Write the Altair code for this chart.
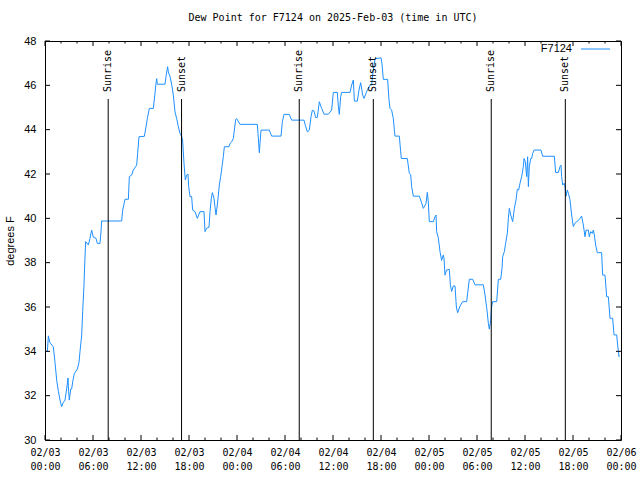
import altair as alt
import pandas as pd

SERIES = "F7124"
TITLE = "Dew Point for F7124 on 2025-Feb-03 (time in UTC)"
Y_TITLE = "degrees F"
LINE_COLOR = "#1e90ff"

# hours after 2025-02-03 00:00 UTC, and dew point (F)
hours = [
    0, 0.3, 0.42, 0.6, 1.04, 1.25, 1.46, 1.67, 1.875, 2.08, 2.3, 2.5, 2.71, 2.875, 2.95, 3.04,
    3.21, 3.33, 3.5, 3.67, 4.04, 4.25, 4.375, 4.58, 4.71, 4.875, 4.96, 5.08, 5.42, 5.625, 5.83,
    6.04, 6.375, 6.54, 6.875, 7.0, 7.08, 9.58, 9.71, 10.0, 10.42, 10.54, 10.83, 11.04, 11.46,
    11.58, 11.75, 12.42, 12.625, 12.79, 13.04, 13.54, 13.75, 13.875, 13.96, 14.04, 15.0, 15.125,
    15.33, 15.42, 15.625, 15.83, 16.04, 16.25, 16.46, 16.67, 16.875, 17.08, 17.2, 17.375, 17.54,
    17.71, 17.875, 17.96, 18.125, 18.33, 18.46, 18.75, 19.04, 19.375, 19.875, 20.0, 20.2, 20.5,
    20.625, 20.79, 20.92, 21.125, 21.25, 21.375, 21.54, 21.67, 21.79, 21.96, 22.125, 22.29,
    22.42, 23.0, 23.125, 23.33, 23.54, 23.67, 23.83, 23.96, 24.17, 24.375, 26.54, 26.625, 26.79,
    26.875, 27.0, 28.04, 28.33, 29.5, 29.67, 29.875, 30.54, 30.83, 32.375, 32.54, 32.79, 33.04,
    33.25, 33.42, 33.625, 33.83, 34.04, 34.29, 34.58, 34.875, 35.42, 35.83, 36.04, 36.54, 36.67,
    36.79, 36.96, 37.08, 38.125, 38.33, 38.54, 38.67, 39.04, 39.25, 39.46, 39.71, 39.875, 40.125,
    40.33, 40.625, 40.83, 41.0, 41.25, 42.0, 42.125, 42.29, 42.83, 43.0, 43.125, 43.33, 43.54,
    43.67, 43.75, 44.29, 44.46, 44.54, 45.29, 45.54, 45.71, 45.83, 46.04, 46.79, 47.08, 47.29,
    47.625, 47.79, 47.92, 48.04, 48.54, 48.75, 48.875, 48.96, 49.17, 49.375, 49.58, 49.79,
    49.875, 50.0, 50.2, 50.54, 50.67, 50.83, 51.04, 51.25, 51.42, 51.58, 51.875, 52.21, 52.71,
    52.83, 53.04, 53.46, 53.75, 54.79, 55.0, 55.21, 55.42, 55.54, 55.71, 55.83, 55.96, 56.46,
    56.67, 56.96, 57.125, 57.21, 57.42, 57.58, 57.79, 57.92, 58.04, 58.21, 58.46, 58.67, 58.875,
    59.04, 59.21, 59.375, 59.58, 59.79, 59.875, 60.04, 60.21, 60.33, 60.42, 60.54, 60.71, 60.83,
    60.96, 61.125, 62.0, 62.21, 63.67, 63.83, 64.17, 64.375, 64.5, 64.58, 64.71, 64.875, 65.0,
    65.125, 65.29, 65.42, 65.625, 65.83, 66.04, 66.25, 66.46, 66.67, 66.875, 67.08, 67.29, 67.5,
    67.625, 67.92, 68.04, 68.21, 68.42, 68.54, 68.67, 68.83, 69.04, 69.58, 69.71, 70.0, 70.21,
    70.42, 70.625, 70.96, 71.125, 71.46, 71.58, 71.75, 71.79,
]
dewpoint = [
    34.0, 34.0, 34.7, 34.4, 34.2, 33.5, 32.7, 32.2, 31.8, 31.5, 31.7, 31.8, 32.3, 32.8, 32.2, 31.8,
    32.3, 32.3, 32.7, 33.0, 33.2, 33.5, 34.0, 34.7, 35.8, 37.0, 37.9, 38.95, 38.8, 39.1, 39.47,
    39.15, 39.1, 38.87, 38.87, 39.4, 39.88, 39.88, 40.37, 40.86, 40.86, 41.88, 41.95, 42.18, 42.4,
    42.93, 43.68, 43.7, 44.13, 44.5, 44.96, 44.96, 45.64, 46.09, 46.3, 46.05, 46.05, 46.39,
    46.84, 46.6, 46.4, 46.05, 45.56, 44.8, 44.5, 44.13, 43.83, 43.7, 43.53, 42.48, 41.73,
    41.95, 42.0, 41.43, 40.98, 40.98, 40.37, 40.3, 40.0, 40.3, 40.3, 39.4, 39.55, 39.6,
    40.3, 40.9, 41.16, 40.9, 40.5, 40.15, 40.6, 41.05, 41.5, 41.88, 42.33, 42.78,
    43.23, 43.23, 43.38, 43.45, 43.6, 43.98, 44.46, 44.5, 44.36, 44.24, 44.24, 43.83, 42.96,
    43.38, 43.98, 43.98, 43.71, 43.71, 44.36, 44.69, 44.69, 44.43, 44.43, 44.2, 43.9, 43.98,
    44.58, 44.88, 44.84, 44.55, 44.55, 45.26, 44.96, 44.7, 44.7, 44.88, 45.68, 45.68, 45.04,
    44.69, 45.49, 45.68, 45.68, 46.01, 46.24, 45.29, 45.29, 45.79, 46.12, 45.56, 45.41, 45.64,
    45.82, 46.01, 46.01, 46.6, 47.2, 47.24, 46.97, 46.27, 46.27, 45.34, 44.96, 44.88, 44.5,
    43.98, 43.71, 43.71, 43.0, 42.7, 42.7, 42.03, 41.98, 41.43, 41.0, 41.0, 40.7, 40.45,
    40.67, 41.17, 40.7, 39.85, 39.85, 40.07, 40.15, 39.4, 39.1, 38.5, 38.1, 38.35,
    38.2, 37.44, 37.67, 37.7, 37.0, 36.7, 36.95, 36.95, 36.0, 35.74, 36.04, 36.24, 36.24,
    36.62, 37.25, 37.25, 37.0, 37.0, 36.54, 35.98, 35.26, 35.0, 35.4, 36.0, 36.24, 36.24,
    37.25, 37.25, 37.74, 38.27, 38.5, 38.87, 39.32, 40.0, 40.45, 40.15, 39.85, 40.45, 40.83,
    41.31, 41.28, 41.58, 41.88, 42.33, 42.7, 42.55, 41.88, 42.78, 41.43, 42.33, 42.7, 42.7,
    42.93, 43.08, 43.08, 42.8, 42.8, 42.07, 42.07, 42.33, 42.4, 41.88, 41.5, 41.58, 41.43,
    41.0, 41.28, 41.13, 40.83, 40.15, 39.63, 39.78, 39.85, 39.9, 40.0, 40.1, 39.7, 39.17,
    39.47, 39.47, 39.17, 39.4, 39.32, 39.47, 39.25, 38.8, 38.45, 38.45, 37.44, 37.44, 36.46,
    36.46, 35.49, 35.49, 34.74, 34.74, 34.29, 33.76, 33.8,
]

# sun events (hours after 2025-02-03 00:00 UTC)
event_hours = [7.9, 17.07, 31.78, 41.04, 55.78, 65.04]
event_names = ["Sunrise", "Sunset", "Sunrise", "Sunset", "Sunrise", "Sunset"]

y_ticks = list(range(30, 49, 2))
x_major_hours = list(range(0, 73, 6))
x_minor_hours = [h for h in range(0, 73, 2) if h % 6 != 0]

BASE = pd.Timestamp("2025-02-03T00:00:00")


def iso(hs):
    return [(BASE + pd.Timedelta(hours=h)).strftime("%Y-%m-%dT%H:%M:%SZ") for h in hs]


df = pd.DataFrame({"t": iso(hours), "v": dewpoint, "series": SERIES})
ev = pd.DataFrame({"t": iso(event_hours), "name": event_names})
xmaj = pd.DataFrame({"t": iso(x_major_hours)})
xmin = pd.DataFrame({"t": iso(x_minor_hours)})
yt = pd.DataFrame({"v": y_ticks})
leg = pd.DataFrame({"series": [SERIES]})

W, H = 576, 399
MONO = "DejaVu Sans Mono"
SANS = "Liberation Sans"

xscale = alt.Scale(type="utc", domain=[
    alt.DateTime(year=2025, month=2, date=3, utc=True),
    alt.DateTime(year=2025, month=2, date=6, utc=True),
])
yscale = alt.Scale(domain=[30, 48], nice=False, zero=False)

x_axis = alt.Axis(
    values=[alt.DateTime(year=2025, month=2, date=3 + h // 24, hours=h % 24, utc=True) for h in x_major_hours],
    labelExpr="[utcFormat(datum.value, '%m/%d'), utcFormat(datum.value, '%H:%M')]",
    title=None, grid=False, ticks=False, tickSize=0, domain=False,
    labelFont=MONO, labelFontSize=10, labelColor="black", labelPadding=7,
    labelLineHeight=14, labelBaseline="top", labelAngle=0, labelOverlap=False,
    labelFlush=False,
)
y_axis = alt.Axis(
    values=y_ticks, title=Y_TITLE, grid=False, ticks=False, tickSize=0, domain=False,
    labelFont=SANS, labelFontSize=11, labelColor="black", labelPadding=9,
    titleFont=SANS, titleFontSize=11, titleFontWeight="normal", titleColor="black",
    titlePadding=8,
)

line = alt.Chart(df).mark_line(color=LINE_COLOR, strokeWidth=1, clip=True).encode(
    x=alt.X("t:T", scale=xscale, axis=x_axis),
    y=alt.Y("v:Q", scale=yscale, axis=y_axis),
)

ev_rules = alt.Chart(ev).mark_rule(color="black", strokeWidth=1).encode(
    x="t:T", y=alt.value(58), y2=alt.value(H)
)
ev_text = alt.Chart(ev).mark_text(
    angle=270, align="left", baseline="middle", font=MONO, fontSize=10, color="black"
).encode(x="t:T", y=alt.value(51), text="name:N")

tick_layers = []
for d, ln in ((xmaj, 5), (xmin, 2.5)):
    tick_layers.append(alt.Chart(d).mark_rule(color="black").encode(
        x="t:T", y=alt.value(H), y2=alt.value(H - ln)))
    tick_layers.append(alt.Chart(d).mark_rule(color="black").encode(
        x="t:T", y=alt.value(0), y2=alt.value(ln)))
tick_layers.append(alt.Chart(yt).mark_rule(color="black").encode(
    y="v:Q", x=alt.value(0), x2=alt.value(5)))
tick_layers.append(alt.Chart(yt).mark_rule(color="black").encode(
    y="v:Q", x=alt.value(W), x2=alt.value(W - 5)))

leg_text = alt.Chart(leg).mark_text(
    align="right", baseline="middle", font=SANS, fontSize=11, color="black"
).encode(x=alt.value(527), y=alt.value(8), text="series:N")
leg_line = alt.Chart(leg).mark_rule(color=LINE_COLOR, strokeWidth=1).encode(
    x=alt.value(536), x2=alt.value(565), y=alt.value(8)
)

chart = alt.layer(
    line, ev_rules, ev_text, *tick_layers, leg_text, leg_line
).properties(
    width=W, height=H,
    title=alt.Title(TITLE, font=MONO, fontSize=10, fontWeight="normal", anchor="middle",
                    color="black", offset=12),
    autosize=alt.AutoSizeParams(type="none"),
    padding={"left": 45, "top": 41, "right": 19, "bottom": 40},
    background="white",
).configure_view(stroke="black", strokeWidth=1)

chart.save("out.html", embed_options={"renderer": "svg", "actions": False})
